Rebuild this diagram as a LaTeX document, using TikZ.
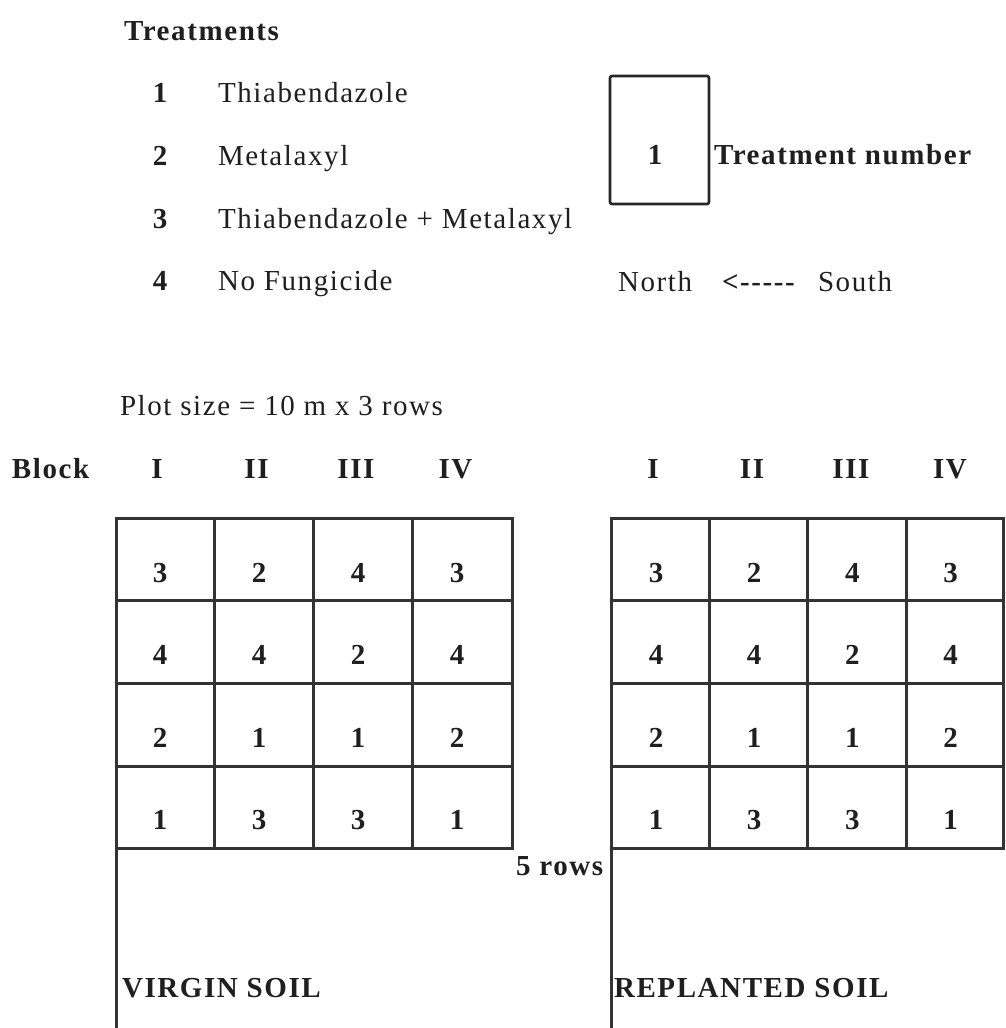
\documentclass[tikz,border=0pt]{standalone}
\usepackage{fontspec}
\setmainfont{Liberation Serif}[LetterSpace=5.5]
\begin{document}
\begin{tikzpicture}[x=1pt,y=-1pt,
  txt/.style={inner sep=0pt,outer sep=0pt,text=black!88,font=\fontsize{29}{33}\selectfont},
  btxt/.style={txt,font=\fontsize{29}{33}\selectfont\bfseries},
  gridline/.style={line width=3pt,draw=black!80,line cap=rect},
  legbox/.style={draw=black!85,line width=2.6pt,rounded corners=2pt,minimum width=99pt,minimum height=128pt,inner sep=0pt}]
\useasboundingbox[fill=white] (0,0) rectangle (1005,1028);

% legend
\node[btxt,anchor=base west] (title) at (124,40) {Treatments};
\foreach \i/\y/\t in {1/102/Thiabendazole,2/165/Metalaxyl,3/228/Thiabendazole + Metalaxyl,4/290/No Fungicide}{
  \node[btxt,anchor=base] (num\i) at (160,\y) {\i};
  \node[txt,anchor=base west] (trt\i) at (218,\y) {\t};
}
\node[legbox] (box) at (659.5,140) {};
\node[btxt,anchor=base] (boxnum) at (655,164) {1};
\node[btxt,anchor=base west] (tnum) at (714,164) {Treatment number};
\node[txt,anchor=base west] (north) at (618,291) {North};
\node[btxt,anchor=base west] (arrow) at (722,291) {<{-}{-}{-}{-}{-}};
\node[txt,anchor=base west] (south) at (818,291) {South};

\node[txt,anchor=base west] (plot) at (120,415) {Plot size = 10 m x 3 rows};
\node[btxt,anchor=base west] (block) at (12,478) {Block};
\foreach \r [count=\k] in {I,II,III,IV}{
  \pgfmathsetmacro{\xl}{157+99.5*(\k-1)}
  \pgfmathsetmacro{\xr}{653+99*(\k-1)}
  \node[btxt,anchor=base] (hl\k) at (\xl,478) {\r};
  \node[btxt,anchor=base] (hr\k) at (\xr,478) {\r};
}

% grids
\foreach \x in {214.5,313,412,512} \draw[gridline] (\x,518) -- (\x,848);
\foreach \x in {709,807,906,1003.5} \draw[gridline] (\x,518) -- (\x,848);
\draw[gridline] (116,518) -- (116,1030);
\draw[gridline] (611,518) -- (611,1030);
\foreach \y in {518,600,683,766,848}{
  \draw[gridline] (116,\y) -- (512,\y);
  \draw[gridline] (611,\y) -- (1003.5,\y);
}
\foreach \row [count=\j] in {{3,2,4,3},{4,4,2,4},{2,1,1,2},{1,3,3,1}}{
  \foreach \v [count=\k] in \row {
    \pgfmathsetmacro{\xl}{160+99*(\k-1)}
    \pgfmathsetmacro{\xr}{656+98.2*(\k-1)}
    \pgfmathsetmacro{\yb}{518+82.5*(\j-1)+64}
    \node[btxt,anchor=base] (L\j\k) at (\xl,\yb) {\v};
    \node[btxt,anchor=base] (R\j\k) at (\xr,\yb) {\v};
  }
}
\node[btxt,anchor=base west] (rows) at (516,875) {5 rows};
\node[btxt,anchor=base west] (virgin) at (122,997) {VIRGIN SOIL};
\node[btxt,anchor=base west] (replant) at (614,997) {REPLANTED SOIL};
\end{tikzpicture}
\end{document}
